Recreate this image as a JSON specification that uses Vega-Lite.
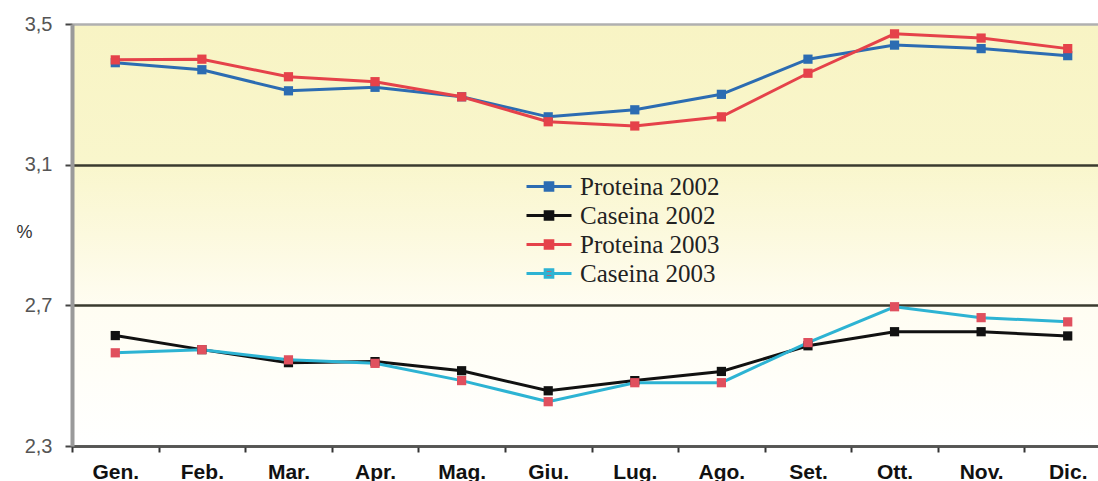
{
  "$schema": "https://vega.github.io/schema/vega-lite/v6.json",
  "autosize": {"type": "none"},
  "padding": {"left": 72, "top": 24, "right": 0, "bottom": 35},
  "width": 1026,
  "height": 422,
  "background": "white",
  "view": {
    "stroke": null,
    "fill": {
      "gradient": "linear", "x1": 0, "y1": 0, "x2": 0, "y2": 1,
      "stops": [
        {"offset": 0, "color": "#F8F4C4"},
        {"offset": 0.33, "color": "#F9F6CC"},
        {"offset": 0.5, "color": "#FCF9DE"},
        {"offset": 0.67, "color": "#FFFDF2"},
        {"offset": 1, "color": "#FFFFFF"}
      ]
    }
  },
  "data": {
    "values": [
      {"month": "Gen.", "series": "Proteina 2002", "value": 3.39},
      {"month": "Feb.", "series": "Proteina 2002", "value": 3.37},
      {"month": "Mar.", "series": "Proteina 2002", "value": 3.31},
      {"month": "Apr.", "series": "Proteina 2002", "value": 3.32},
      {"month": "Mag.", "series": "Proteina 2002", "value": 3.293},
      {"month": "Giu.", "series": "Proteina 2002", "value": 3.236},
      {"month": "Lug.", "series": "Proteina 2002", "value": 3.256},
      {"month": "Ago.", "series": "Proteina 2002", "value": 3.30},
      {"month": "Set.", "series": "Proteina 2002", "value": 3.40},
      {"month": "Ott.", "series": "Proteina 2002", "value": 3.44},
      {"month": "Nov.", "series": "Proteina 2002", "value": 3.43},
      {"month": "Dic.", "series": "Proteina 2002", "value": 3.41},
      {"month": "Gen.", "series": "Caseina 2002", "value": 2.614},
      {"month": "Feb.", "series": "Caseina 2002", "value": 2.574},
      {"month": "Mar.", "series": "Caseina 2002", "value": 2.537},
      {"month": "Apr.", "series": "Caseina 2002", "value": 2.54},
      {"month": "Mag.", "series": "Caseina 2002", "value": 2.514},
      {"month": "Giu.", "series": "Caseina 2002", "value": 2.457},
      {"month": "Lug.", "series": "Caseina 2002", "value": 2.486},
      {"month": "Ago.", "series": "Caseina 2002", "value": 2.512},
      {"month": "Set.", "series": "Caseina 2002", "value": 2.585},
      {"month": "Ott.", "series": "Caseina 2002", "value": 2.625},
      {"month": "Nov.", "series": "Caseina 2002", "value": 2.625},
      {"month": "Dic.", "series": "Caseina 2002", "value": 2.613},
      {"month": "Gen.", "series": "Proteina 2003", "value": 3.398},
      {"month": "Feb.", "series": "Proteina 2003", "value": 3.40},
      {"month": "Mar.", "series": "Proteina 2003", "value": 3.35},
      {"month": "Apr.", "series": "Proteina 2003", "value": 3.336},
      {"month": "Mag.", "series": "Proteina 2003", "value": 3.293},
      {"month": "Giu.", "series": "Proteina 2003", "value": 3.222},
      {"month": "Lug.", "series": "Proteina 2003", "value": 3.21},
      {"month": "Ago.", "series": "Proteina 2003", "value": 3.236},
      {"month": "Set.", "series": "Proteina 2003", "value": 3.36},
      {"month": "Ott.", "series": "Proteina 2003", "value": 3.472},
      {"month": "Nov.", "series": "Proteina 2003", "value": 3.46},
      {"month": "Dic.", "series": "Proteina 2003", "value": 3.43},
      {"month": "Gen.", "series": "Caseina 2003", "value": 2.565},
      {"month": "Feb.", "series": "Caseina 2003", "value": 2.574},
      {"month": "Mar.", "series": "Caseina 2003", "value": 2.545},
      {"month": "Apr.", "series": "Caseina 2003", "value": 2.535},
      {"month": "Mag.", "series": "Caseina 2003", "value": 2.486},
      {"month": "Giu.", "series": "Caseina 2003", "value": 2.426},
      {"month": "Lug.", "series": "Caseina 2003", "value": 2.48},
      {"month": "Ago.", "series": "Caseina 2003", "value": 2.48},
      {"month": "Set.", "series": "Caseina 2003", "value": 2.594},
      {"month": "Ott.", "series": "Caseina 2003", "value": 2.696},
      {"month": "Nov.", "series": "Caseina 2003", "value": 2.665},
      {"month": "Dic.", "series": "Caseina 2003", "value": 2.653}
    ]
  },
  "encoding": {
    "x": {
      "field": "month", "type": "nominal",
      "scale": {
        "type": "band",
        "domain": ["Gen.", "Feb.", "Mar.", "Apr.", "Mag.", "Giu.", "Lug.", "Ago.", "Set.", "Ott.", "Nov.", "Dic."],
        "range": [0, 1039], "paddingInner": 0, "paddingOuter": 0
      },
      "axis": {
        "title": null, "labelAngle": 0, "tickBand": "extent",
        "domainColor": "#555555", "domainWidth": 2.5,
        "tickColor": "#333333", "tickWidth": 2, "tickSize": 6,
        "labelFont": "Liberation Sans", "labelFontSize": 21, "labelFontWeight": "bold",
        "labelColor": "#111111", "labelPadding": 9, "grid": false
      }
    },
    "y": {
      "field": "value", "type": "quantitative",
      "scale": {"domain": [2.3, 3.5], "nice": false, "zero": false},
      "axis": {
        "values": [2.3, 2.7, 3.1, 3.5],
        "labelExpr": "replace(format(datum.value, '.1f'), '.', ',')",
        "labelFont": "Liberation Sans", "labelFontSize": 20, "labelColor": "#555555",
        "labelPadding": 13,
        "domainColor": "#9A9A9A", "domainWidth": 4,
        "tickColor": "#444444", "tickWidth": 2, "tickSize": 7,
        "grid": true,
        "gridColor": {"condition": {"test": "datum.value > 3.4", "value": "#B0B0B0"}, "value": "#3A3A2E"},
        "gridWidth": 2.5,
        "title": "%", "titleAngle": 0, "titleX": -48, "titleY": 208,
        "titleAlign": "center", "titleBaseline": "middle",
        "titleFont": "Liberation Sans", "titleFontSize": 18, "titleFontWeight": "normal", "titleColor": "#333333"
      }
    }
  },
  "layer": [
    {
      "mark": {"type": "line", "strokeWidth": 3},
      "encoding": {
        "stroke": {
          "field": "series", "type": "nominal",
          "scale": {
            "domain": ["Proteina 2002", "Caseina 2002", "Proteina 2003", "Caseina 2003"],
            "range": ["#2C6CB2", "#111111", "#E5424A", "#2DB3D3"]
          },
          "legend": {
            "title": null, "orient": "none", "legendX": 453, "legendY": 148,
            "symbolType": "M-1,0H1M-0.17,-0.17H0.17V0.17H-0.17Z",
            "symbolSize": 2025, "symbolStrokeWidth": 3, "symbolOpacity": 1,
            "clipHeight": 29, "rowPadding": 0, "padding": 0,
            "labelFont": "Liberation Serif", "labelFontSize": 25, "labelColor": "#222222",
            "labelOffset": 7
          }
        }
      }
    },
    {
      "mark": {"type": "point", "shape": "square", "filled": true, "size": 85, "opacity": 1},
      "encoding": {
        "fill": {
          "field": "series", "type": "nominal",
          "scale": {
            "domain": ["Proteina 2002", "Caseina 2002", "Proteina 2003", "Caseina 2003"],
            "range": ["#2C6CB2", "#111111", "#E5424A", "#E0505E"]
          },
          "legend": {
            "title": null, "orient": "none", "legendX": 453, "legendY": 148,
            "symbolType": "M-1,0H1M-0.17,-0.17H0.17V0.17H-0.17Z",
            "symbolSize": 2025, "symbolStrokeWidth": 3, "symbolOpacity": 1,
            "clipHeight": 29, "rowPadding": 0, "padding": 0,
            "labelFont": "Liberation Serif", "labelFontSize": 25, "labelColor": "#222222",
            "labelOffset": 7
          }
        }
      }
    }
  ]
}
